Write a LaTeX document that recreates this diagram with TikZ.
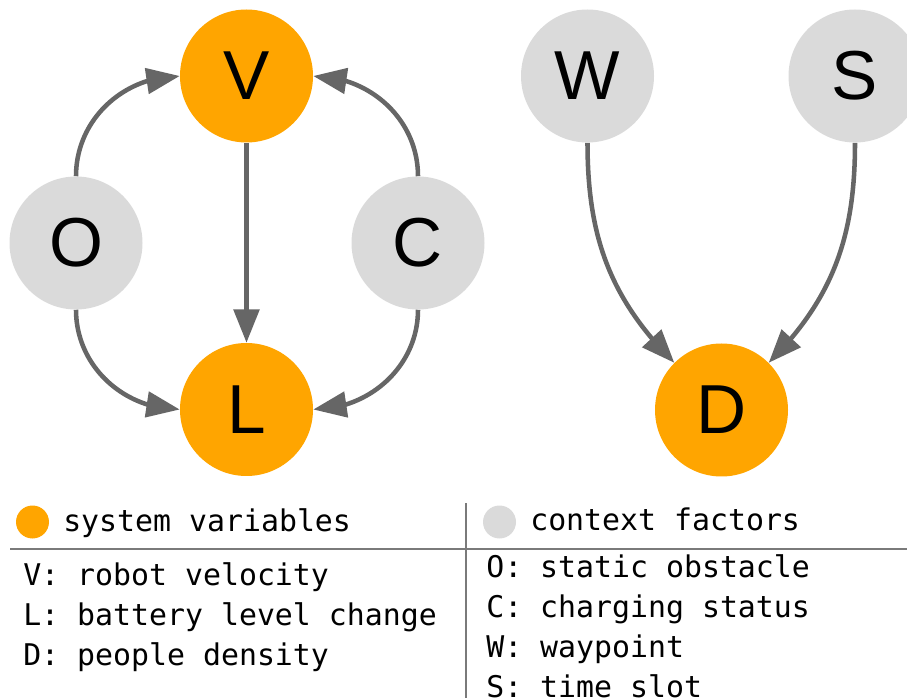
\documentclass[tikz,border=0pt]{standalone}
\usepackage{fontspec}
\setmainfont{Liberation Sans}
\setmonofont{DejaVu Sans Mono}
\usetikzlibrary{arrows.meta,bending}

\definecolor{sysorange}{HTML}{FFA500}
\definecolor{ctxgray}{HTML}{DADADA}
\definecolor{edgegray}{HTML}{666666}
\definecolor{rulegray}{HTML}{7A7A7A}

\tikzset{
  varnode/.style={circle, minimum size=99.75pt, inner sep=0pt,
    font=\fontsize{52pt}{52pt}\selectfont},
  sysvar/.style={varnode, fill=sysorange},
  ctxvar/.style={varnode, fill=ctxgray},
  edge/.style={draw=edgegray, line width=3.4pt,
    -{Triangle[length=25pt,width=19pt,flex]}},
  legdot/.style={circle, minimum size=24.75pt, inner sep=0pt},
  legtext/.style={anchor=base west, inner sep=0pt,
    font=\ttfamily\fontsize{22.4pt}{26pt}\selectfont},
  rule/.style={draw=rulegray, line width=1.2pt}
}

\begin{document}
\begin{tikzpicture}[x=0.75pt, y=-0.75pt]
  \useasboundingbox (0,0) rectangle (907,698);

  % left graph
  \node[sysvar] (V) at (246.5,76) {V};
  \node[ctxvar] (O) at (76,243) {O};
  \node[ctxvar] (C) at (418,243) {C};
  \node[sysvar] (L) at (246.5,409.5) {L};

  % right graph
  \node[ctxvar] (W) at (587.5,76) {W};
  \node[ctxvar] (S) at (855,76) {S};
  \node[sysvar] (D) at (721.5,410) {D};

  % edges
  \draw[edge] (O) to[out=90,in=180] (V);
  \draw[edge] (C) to[out=90,in=0] (V);
  \draw[edge] (O) to[out=-90,in=180] (L);
  \draw[edge] (C) to[out=-90,in=0] (L);
  \draw[edge] (V) -- (L);
  \draw[edge] (W) to[out=-90,in=135] (D);
  \draw[edge] (S) to[out=-90,in=45] (D);

  % legend frame
  \draw[rule] (10,549) -- (907,549);
  \draw[rule] (466,503) -- (466,698);

  % legend: system variables
  \node[legdot, fill=sysorange] (sysdot) at (32.5,522) {};
  \node[legtext] (systitle) at (63,531) {system variables};
  \node[legtext] (legV) at (23,585) {V: robot velocity};
  \node[legtext] (legL) at (23,625) {L: battery level change};
  \node[legtext] (legD) at (23,665) {D: people density};

  % legend: context factors
  \node[legdot, fill=ctxgray] (ctxdot) at (499.5,522) {};
  \node[legtext] (ctxtitle) at (530,530) {context factors};
  \node[legtext] (legO) at (486,577) {O: static obstacle};
  \node[legtext] (legC) at (486,617) {C: charging status};
  \node[legtext] (legW) at (486,657) {W: waypoint};
  \node[legtext] (legS) at (486,697) {S: time slot};
\end{tikzpicture}
\end{document}
